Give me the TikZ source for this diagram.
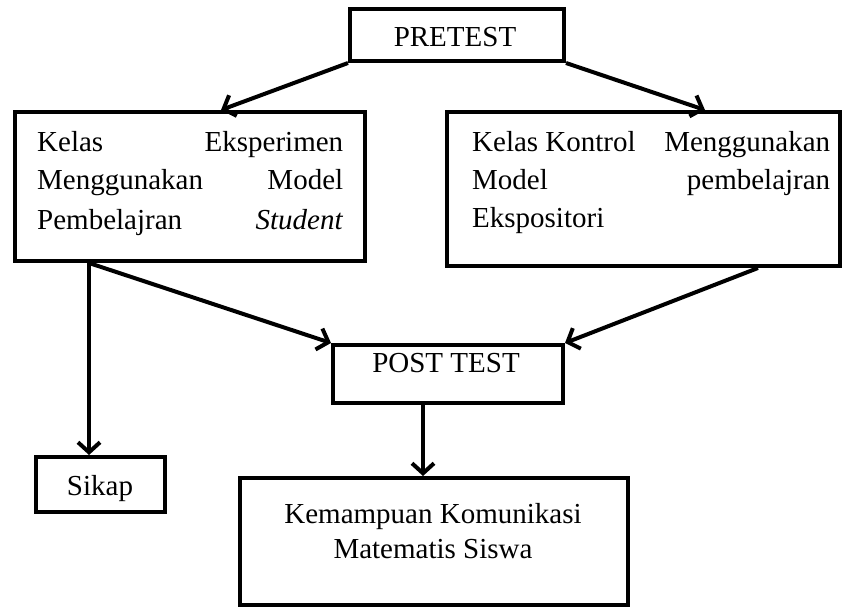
\documentclass[tikz,border=0pt]{standalone}
\usepackage{fontspec}
\setmainfont{Liberation Serif}
\usetikzlibrary{arrows.meta,calc}
\begin{document}
\begin{tikzpicture}[x=1pt,y=-1pt,
  box/.style={draw=black,line width=4pt,rectangle,inner sep=0pt,minimum width=#1},
  txt/.style={inner sep=0pt,anchor=base west,font=\fontsize{29}{39}\selectfont},
  ctxt/.style={inner sep=0pt,anchor=base,font=\fontsize{29}{39}\selectfont},
  arr/.style={line width=4pt,-{Straight Barb[length=10pt,width=22pt,line width=4pt]}}
]
\useasboundingbox (0,0) rectangle (846,609);
% boxes
\node[box=214pt,minimum height=52pt] (pre) at (457,35) {};
\node[box=350pt,minimum height=149pt] (kiri) at (190,186.5) {};
\node[box=393pt,minimum height=154pt] (kanan) at (643.5,189) {};
\node[box=230pt,minimum height=58pt] (post) at (448,374) {};
\node[box=129pt,minimum height=55pt] (sikap) at (100.5,484.5) {};
\node[box=388pt,minimum height=127pt] (kem) at (434,541.5) {};
% texts
\node[ctxt] (preT) at (455,47) {PRETEST};
\node[txt] (kiri1) at (37,152) {\makebox[306pt][s]{Kelas Eksperimen}};
\node[txt] (kiri2) at (37,190) {\makebox[306pt][s]{Menggunakan Model}};
\node[txt] (kiri3) at (37,230) {\makebox[306pt][s]{Pembelajran \textit{Student}}};
\node[txt] (kanan1) at (472,152) {\makebox[358pt][s]{\mbox{Kelas Kontrol} Menggunakan}};
\node[txt] (kanan2) at (472,190) {\makebox[358pt][s]{Model pembelajran}};
\node[txt] (kanan3) at (472,228) {Ekspositori};
\node[ctxt] (postT) at (446,373) {POST TEST};
\node[ctxt] (sikapT) at (100,495) {Sikap};
\node[ctxt] (kem1) at (433,523) {Kemampuan Komunikasi};
\node[ctxt] (kem2) at (433,558) {Matematis Siswa};
% connector coordinates
\coordinate (kiriIn) at ($(kiri.north west)+(208,0)$);
\coordinate (kananIn) at ($(kanan.north west)+(260,0)$);
\coordinate (kiriOut) at ($(kiri.south west)+(76,0)$);
\coordinate (kananOut) at ($(kanan.south west)+(313,0)$);
% connectors
\draw[arr] (pre.south west) -- (kiriIn);
\draw[arr] (pre.south east) -- (kananIn);
\draw[arr] (kiriOut) -- (post.north west);
\draw[arr] (kananOut) -- (post.north east);
\draw[arr] (kiriOut) -- (kiriOut |- sikap.north);
\draw[arr] (423,0 |- post.south) -- (423,0 |- kem.north);
\end{tikzpicture}
\end{document}
